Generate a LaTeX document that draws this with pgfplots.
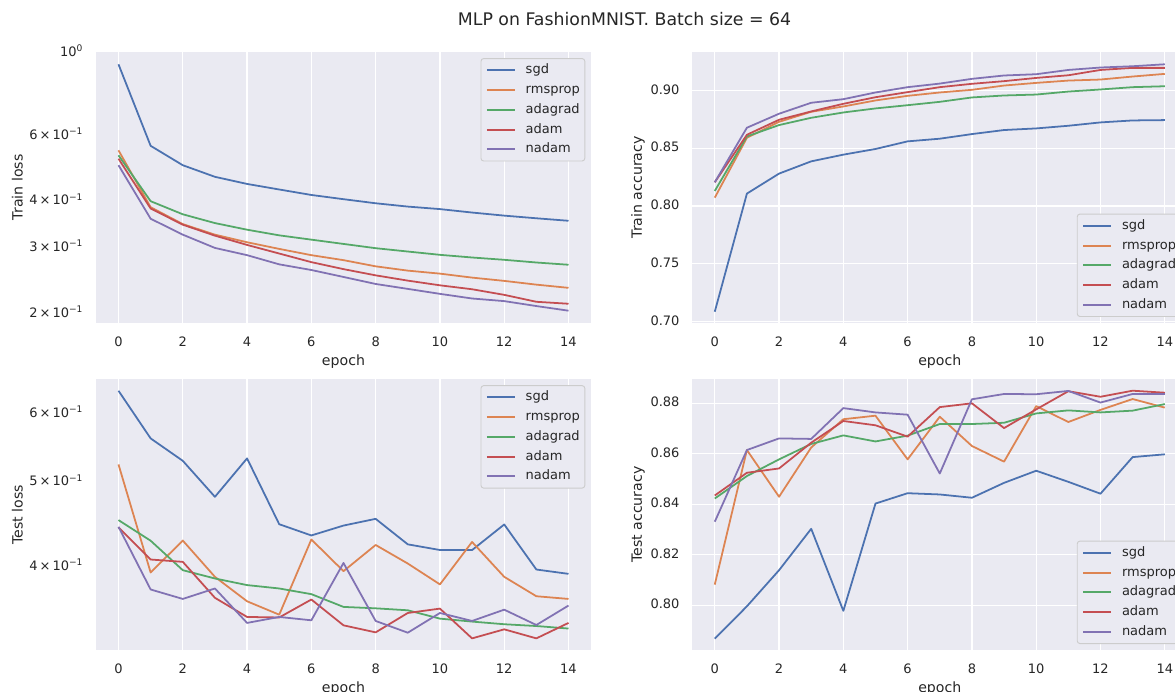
\documentclass[border=0pt]{standalone}
\usepackage{pgfplots}
\pgfplotsset{compat=1.18}
\usepackage{fontspec}
\setmainfont{DejaVu Sans}

\definecolor{bgc}{HTML}{EAEAF2}
\definecolor{txt}{HTML}{262626}
\definecolor{edge}{HTML}{CCCCCC}
\definecolor{cA}{HTML}{4C72B0}
\definecolor{cB}{HTML}{DD8452}
\definecolor{cC}{HTML}{55A868}
\definecolor{cD}{HTML}{C44E52}
\definecolor{cE}{HTML}{8172B3}

% 1 px of the reference = 0.75pt
\newcommand\sci[2]{#1\kern1.5pt×\kern1.5pt10\textsuperscript{#2}}

\pgfplotsset{
  mpl/.style={
    scale only axis, width=371.25pt, height=202.8pt,
    xmin=-0.7, xmax=14.7,
    xtick={0,2,...,14},
    axis background/.style={fill=bgc},
    axis line style={draw=none},
    major tick length=0pt, minor tick length=0pt,
    xmajorgrids,
    grid style={white, line width=0.9pt},
    tick label style={font=\fontsize{9.75}{11}\selectfont, text=txt, inner sep=0pt},
    xticklabel style={anchor=base, yshift=-17.8pt},
    yticklabel style={anchor=mid east, xshift=-9.4pt},
    /pgf/number format/assume math mode=true,
    label style={font=\fontsize{10.6}{12}\selectfont, text=txt},
    xlabel=epoch,
    xlabel style={at={(axis description cs:0.5,0)}, anchor=center, yshift=-29.5pt},
    legend cell align=left,
    legend style={
      fill=bgc, draw=edge, line width=0.7pt, rounded corners=2pt,
      inner xsep=3.75pt, inner ysep=1.4pt,
      font=\fontsize{9.75}{11}\selectfont, text=txt,
      nodes={inner sep=0pt, text height=10pt, text depth=4.8pt},
      row sep=0pt, column sep=7.5pt,
    },
    legend image code/.code={\draw[#1, line width=1.5pt] (0pt,0pt) -- (20.8pt,0pt);},
    every axis plot/.append style={line width=1.33pt, line join=round},
    cycle list={{cA},{cB},{cC},{cD},{cE}},
  },
  upright/.style={legend style={at={(rel axis cs:1,1)}, anchor=north east, xshift=-4.3pt, yshift=-4.4pt}},
  lowright/.style={legend style={at={(rel axis cs:1,0)}, anchor=south east, xshift=-4.3pt, yshift=4.3pt}},
}

\begin{document}
\begin{tikzpicture}

\node[font=\fontsize{13}{15}\selectfont, text=txt, anchor=base] at (468.4pt,-19.5pt)
  {MLP on FashionMNIST. Batch size = 64};

% Train loss
\begin{axis}[mpl, upright, at={(72pt,-39.2pt)}, anchor=north west,
  ymode=log, ymin=0.189, ymax=1.003,
  ytick={0.2,0.3,0.4,0.6,1},
  yticklabels={\sci{2}{−1},\sci{3}{−1},\sci{4}{−1},\sci{6}{−1},10\textsuperscript{0}},
  ylabel={Train loss},
  ylabel style={at={(axis description cs:-0.159,0.5)}, anchor=center},
]
\addplot coordinates {(0,0.931) (1,0.563) (2,0.4995) (3,0.465) (4,0.445) (5,0.430) (6,0.4157) (7,0.405) (8,0.395) (9,0.387) (10,0.381) (11,0.373) (12,0.366) (13,0.360) (14,0.3545)};
\addplot coordinates {(0,0.5475) (1,0.3855) (2,0.3473) (3,0.3254) (4,0.3105) (5,0.298) (6,0.2867) (7,0.278) (8,0.2676) (9,0.2606) (10,0.2558) (11,0.2496) (12,0.2446) (13,0.239) (14,0.2343)};
\addplot coordinates {(0,0.531) (1,0.400) (2,0.369) (3,0.3495) (4,0.3355) (5,0.324) (6,0.3155) (7,0.3073) (8,0.2993) (9,0.2932) (10,0.2873) (11,0.2826) (12,0.2786) (13,0.274) (14,0.2702)};
\addplot coordinates {(0,0.520) (1,0.3824) (2,0.346) (3,0.3234) (4,0.3054) (5,0.2896) (6,0.2746) (7,0.263) (8,0.2531) (9,0.245) (10,0.238) (11,0.2323) (12,0.2244) (13,0.215) (14,0.2124)};
\addplot coordinates {(0,0.4995) (1,0.359) (2,0.3254) (3,0.2998) (4,0.2867) (5,0.2709) (6,0.2616) (7,0.2506) (8,0.240) (9,0.2328) (10,0.2258) (11,0.2194) (12,0.2159) (13,0.2094) (14,0.2035)};
\legend{sgd,rmsprop,adagrad,adam,nadam}
\end{axis}

% Train accuracy
\begin{axis}[mpl, lowright, at={(519.2pt,-39.2pt)}, anchor=north west,
  ymin=0.6991, ymax=0.9331, ymajorgrids,
  ytick={0.70,0.75,0.80,0.85,0.90},
  yticklabel style={/pgf/number format/.cd, fixed, fixed zerofill, precision=2},
  ylabel={Train accuracy},
  ylabel style={at={(axis description cs:-0.1095,0.5)}, anchor=center},
]
\addplot coordinates {(0,0.7086) (1,0.8108) (2,0.8281) (3,0.8387) (4,0.8445) (5,0.8494) (6,0.856) (7,0.8583) (8,0.8623) (9,0.8658) (10,0.8672) (11,0.8695) (12,0.8724) (13,0.8741) (14,0.8744)};
\addplot coordinates {(0,0.8073) (1,0.8591) (2,0.8729) (3,0.8816) (4,0.8862) (5,0.8914) (6,0.8954) (7,0.8983) (8,0.9006) (9,0.9043) (10,0.9066) (11,0.9086) (12,0.9095) (13,0.9121) (14,0.9144)};
\addplot coordinates {(0,0.8131) (1,0.8603) (2,0.8701) (3,0.8764) (4,0.881) (5,0.8845) (6,0.8873) (7,0.8902) (8,0.894) (9,0.8957) (10,0.8965) (11,0.8991) (12,0.9009) (13,0.9029) (14,0.9037)};
\addplot coordinates {(0,0.8206) (1,0.8617) (2,0.8747) (3,0.8819) (4,0.8885) (5,0.8942) (6,0.8986) (7,0.9029) (8,0.9058) (9,0.9081) (10,0.9109) (11,0.9132) (12,0.9178) (13,0.9196) (14,0.9196)};
\addplot coordinates {(0,0.8206) (1,0.8678) (2,0.8799) (3,0.8894) (4,0.8925) (5,0.8983) (6,0.9029) (7,0.906) (8,0.9101) (9,0.913) (10,0.9141) (11,0.9178) (12,0.9199) (13,0.921) (14,0.9227)};
\legend{sgd,rmsprop,adagrad,adam,nadam}
\end{axis}

% Test loss
\begin{axis}[mpl, upright, at={(72pt,-284.5pt)}, anchor=north west,
  ymode=log, ymin=0.3212, ymax=0.6565,
  ytick={0.4,0.5,0.6},
  yticklabels={\sci{4}{−1},\sci{5}{−1},\sci{6}{−1}},
  ylabel={Test loss},
  ylabel style={at={(axis description cs:-0.159,0.5)}, anchor=center},
]
\addplot coordinates {(0,0.637) (1,0.5616) (2,0.5293) (3,0.4812) (4,0.5327) (5,0.4476) (6,0.4345) (7,0.446) (8,0.454) (9,0.4244) (10,0.4181) (11,0.418) (12,0.4473) (13,0.3971) (14,0.3926)};
\addplot coordinates {(0,0.5242) (1,0.394) (2,0.4287) (3,0.3895) (4,0.3651) (5,0.3524) (6,0.4299) (7,0.3954) (8,0.4237) (9,0.4034) (10,0.3818) (11,0.4271) (12,0.3895) (13,0.370) (14,0.3674)};
\addplot coordinates {(0,0.4525) (1,0.4285) (2,0.3964) (3,0.3878) (4,0.3811) (5,0.3777) (6,0.3721) (7,0.3597) (8,0.3584) (9,0.3565) (10,0.3487) (11,0.346) (12,0.3436) (13,0.342) (14,0.3397)};
\addplot coordinates {(0,0.4438) (1,0.4077) (2,0.4052) (3,0.3685) (4,0.3503) (5,0.3498) (6,0.3668) (7,0.3426) (8,0.3363) (9,0.354) (10,0.3581) (11,0.331) (12,0.339) (13,0.331) (14,0.3448)};
\addplot coordinates {(0,0.4445) (1,0.3767) (2,0.3674) (3,0.3777) (4,0.3448) (5,0.3503) (6,0.3472) (7,0.404) (8,0.3466) (9,0.336) (10,0.354) (11,0.3466) (12,0.3571) (13,0.3429) (14,0.361)};
\legend{sgd,rmsprop,adagrad,adam,nadam}
\end{axis}

% Test accuracy
\begin{axis}[mpl, lowright, at={(519.2pt,-284.5pt)}, anchor=north west,
  ymin=0.7824, ymax=0.8895, ymajorgrids,
  ytick={0.80,0.82,0.84,0.86,0.88},
  yticklabel style={/pgf/number format/.cd, fixed, fixed zerofill, precision=2},
  ylabel={Test accuracy},
  ylabel style={at={(axis description cs:-0.1095,0.5)}, anchor=center},
]
\addplot coordinates {(0,0.7868) (1,0.7996) (2,0.8139) (3,0.8303) (4,0.7978) (5,0.8403) (6,0.8444) (7,0.8439) (8,0.8426) (9,0.8485) (10,0.8533) (11,0.8489) (12,0.8442) (13,0.8587) (14,0.8598)};
\addplot coordinates {(0,0.8082) (1,0.8615) (2,0.843) (3,0.8625) (4,0.8737) (5,0.8751) (6,0.8578) (7,0.8747) (8,0.8631) (9,0.8569) (10,0.8789) (11,0.8726) (12,0.8774) (13,0.8817) (14,0.8783)};
\addplot coordinates {(0,0.8423) (1,0.8512) (2,0.8578) (3,0.8639) (4,0.8673) (5,0.8649) (6,0.8672) (7,0.8718) (8,0.8718) (9,0.8723) (10,0.876) (11,0.8772) (12,0.8764) (13,0.8771) (14,0.8797)};
\addplot coordinates {(0,0.8435) (1,0.8525) (2,0.8542) (3,0.8644) (4,0.873) (5,0.8713) (6,0.8668) (7,0.8785) (8,0.88) (9,0.8702) (10,0.8776) (11,0.8848) (12,0.8826) (13,0.885) (14,0.8842)};
\addplot coordinates {(0,0.8331) (1,0.8615) (2,0.8661) (3,0.8659) (4,0.8781) (5,0.8764) (6,0.8755) (7,0.8522) (8,0.8816) (9,0.8837) (10,0.8836) (11,0.8849) (12,0.8803) (13,0.8837) (14,0.8837)};
\legend{sgd,rmsprop,adagrad,adam,nadam}
\end{axis}

\pgfresetboundingbox
\path[use as bounding box] (0pt,0pt) rectangle (881.25pt,-519pt);
\end{tikzpicture}
\end{document}
